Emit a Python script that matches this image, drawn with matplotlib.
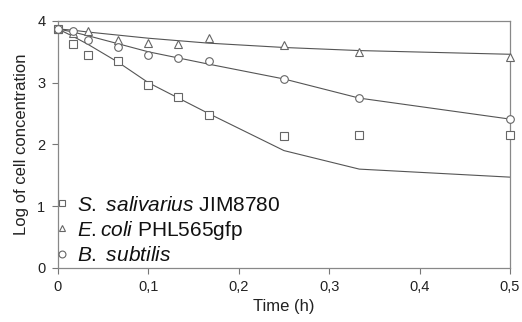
import matplotlib
matplotlib.use('Agg')
import matplotlib.pyplot as plt
from matplotlib.ticker import FuncFormatter

plt.rcParams['font.family'] = ['Liberation Sans', 'DejaVu Sans']
plt.rcParams['mathtext.fontset'] = 'custom'
plt.rcParams['mathtext.rm'] = 'Liberation Sans'
plt.rcParams['mathtext.it'] = 'Liberation Sans:italic'

# sampling times (h)
time = [0, 0.0167, 0.0333, 0.0667, 0.1, 0.1333, 0.1667, 0.25, 0.3333, 0.5]

# measured log concentrations
salivarius = [3.87, 3.63, 3.45, 3.35, 2.96, 2.77, 2.48, 2.13, 2.16, 2.15]
ecoli = [3.87, 3.80, 3.83, 3.69, 3.65, 3.62, 3.72, 3.61, 3.49, 3.41]
subtilis = [3.87, 3.84, 3.69, 3.58, 3.45, 3.40, 3.35, 3.06, 2.75, 2.41]

# fitted model curves
salivarius_fit = [3.87, 3.75, 3.62, 3.33, 3.00, 2.75, 2.50, 1.90, 1.60, 1.47]
ecoli_fit = [3.87, 3.85, 3.82, 3.77, 3.72, 3.68, 3.64, 3.57, 3.52, 3.46]
subtilis_fit = [3.87, 3.82, 3.76, 3.63, 3.50, 3.40, 3.30, 3.06, 2.75, 2.41]

xticks = [0, 0.1, 0.2, 0.3, 0.4, 0.5]
yticks = [0, 1, 2, 3, 4]

fig = plt.figure(figsize=(5.22, 3.22), dpi=100)
ax = fig.add_axes([0.111, 0.168, 0.866, 0.767])

line_col = '#555555'
mark_col = '#666666'
series = [
    (salivarius, salivarius_fit, 's'),
    (ecoli, ecoli_fit, '^'),
    (subtilis, subtilis_fit, 'o'),
]
handles = []
for data, fit, marker in series:
    ax.plot(time, fit, '-', color=line_col, lw=0.8, zorder=2)
    h, = ax.plot(time, data, marker, ms=5.5, mfc='white', mec=mark_col,
                 mew=0.8, ls='none', zorder=3, clip_on=False)
    handles.append(h)

labels = [r'$\it{S.\ salivarius}$ JIM8780',
          r'$\it{E.coli}$ PHL565gfp',
          r'$\it{B.\ subtilis}$']
leg = ax.legend(handles, labels, loc='lower left', bbox_to_anchor=(-0.005, 0.012),
                frameon=False, fontsize=15, handlelength=0.6, handletextpad=0.43,
                labelspacing=0.2, borderaxespad=0, borderpad=0, markerscale=0.9)
for t in leg.get_texts():
    t.set_color('#111111')

ax.set_xlim(0, 0.5)
ax.set_ylim(0, 4)
ax.set_xticks(xticks)
ax.set_yticks(yticks)
ax.xaxis.set_major_formatter(FuncFormatter(lambda v, p: ('%g' % v).replace('.', ',')))
ax.tick_params(direction='out', length=4, width=0.8, color='#777777',
               labelsize=10.5, labelcolor='#222222', pad=5)
for s in ax.spines.values():
    s.set_color('#888888')
    s.set_linewidth(0.9)

ax.set_xlabel('Time (h)', fontsize=12, color='#222222', labelpad=3)
ax.set_ylabel('Log of cell concentration', fontsize=12, color='#222222', labelpad=6)

fig.savefig('out.png', dpi=100)
